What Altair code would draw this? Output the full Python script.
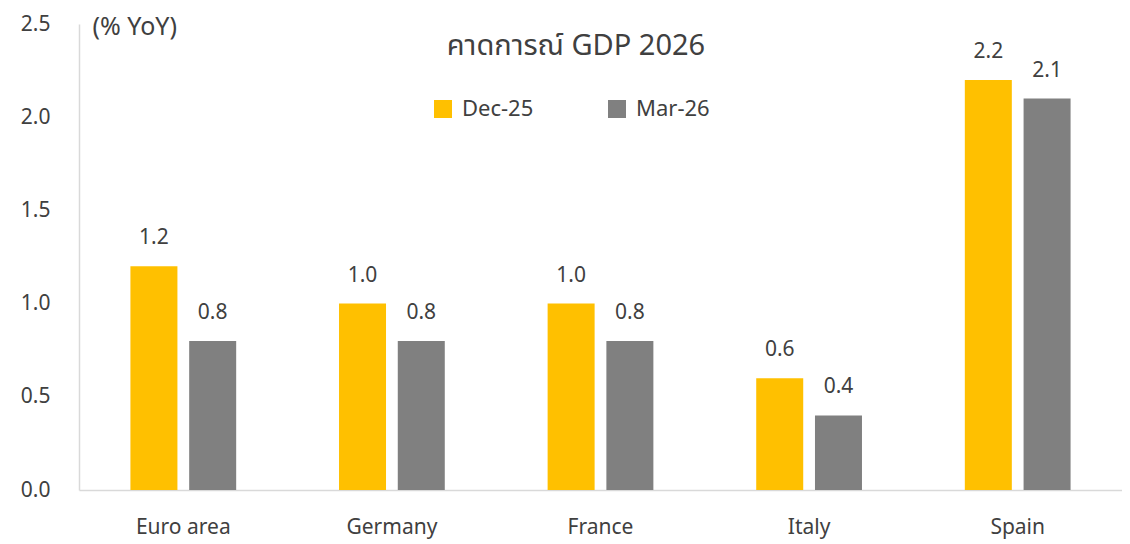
import altair as alt
import pandas as pd

categories = ["Euro area", "Germany", "France", "Italy", "Spain"]
series_names = ["Dec-25", "Mar-26"]
dec25 = [1.2, 1.0, 1.0, 0.6, 2.2]
mar26 = [0.8, 0.8, 0.8, 0.4, 2.1]
y_ticks = [0.0, 0.5, 1.0, 1.5, 2.0, 2.5]
colors = ["#FFC000", "#808080"]
chart_title = ["คาดการณ์ GDP 2026"]

rows = []
for c, a, b in zip(categories, dec25, mar26):
    rows.append({"country": c, "series": series_names[0], "value": a})
    rows.append({"country": c, "series": series_names[1], "value": b})
df = pd.DataFrame(rows)

FONT = "Noto Sans Thai, Noto Sans, sans-serif"
TXT = "#404040"

x = alt.X("country:N", sort=categories,
          scale=alt.Scale(paddingInner=0.493, paddingOuter=0.2465),
          axis=alt.Axis(title=None, labelAngle=0, ticks=False, domainColor="#d9d9d9",
                        domainWidth=1.5, labelPadding=26, labelFontSize=21,
                        labelColor=TXT, labelFont=FONT))
xo = alt.XOffset("series:N", sort=series_names,
                 scale=alt.Scale(paddingInner=0.2, paddingOuter=0))
y = alt.Y("value:Q", scale=alt.Scale(domain=[0, 2.5], nice=False),
          axis=alt.Axis(values=y_ticks, format=".1f", grid=False, ticks=False,
                        domainColor="#d9d9d9", domainWidth=1.5, labelPadding=29,
                        labelFontSize=21, labelColor=TXT, labelFont=FONT,
                        title="(% YoY)", titleAngle=0, titleAlign="left",
                        titleBaseline="top", titleX=13, titleY=-10,
                        titleFontSize=25, titleFontWeight="normal",
                        titleColor=TXT, titleFont=FONT))

color = alt.Color("series:N", sort=series_names,
                  scale=alt.Scale(domain=series_names, range=colors),
                  legend=alt.Legend(title=None, orient="none", direction="horizontal",
                                    legendX=353, legendY=74, symbolType="square",
                                    symbolSize=324, symbolStrokeWidth=0,
                                    labelFontSize=22, labelColor=TXT, labelFont=FONT,
                                    labelOffset=8, columnPadding=72))

bars = alt.Chart(df).mark_bar().encode(x=x, xOffset=xo, y=y, color=color)
labels = alt.Chart(df).mark_text(baseline="alphabetic", dy=-22, fontSize=21,
                                 color=TXT, font=FONT).encode(
    x=x, xOffset=xo, y=y, text=alt.Text("value:Q", format=".1f"))

title_layer = alt.Chart(pd.DataFrame({"t": chart_title})).mark_text(
    baseline="alphabetic", align="center", fontSize=29, color=TXT, font=FONT
).encode(x=alt.value(497), y=alt.value(31), text="t:N")

chart = alt.layer(bars, labels, title_layer).properties(
    width=1043, height=466,
    padding={"left": 71, "top": 16, "right": 0, "bottom": 54},
    autosize="none",
).configure_view(stroke=None)

chart.save("out.html", embed_options={"renderer": "svg", "actions": False})
